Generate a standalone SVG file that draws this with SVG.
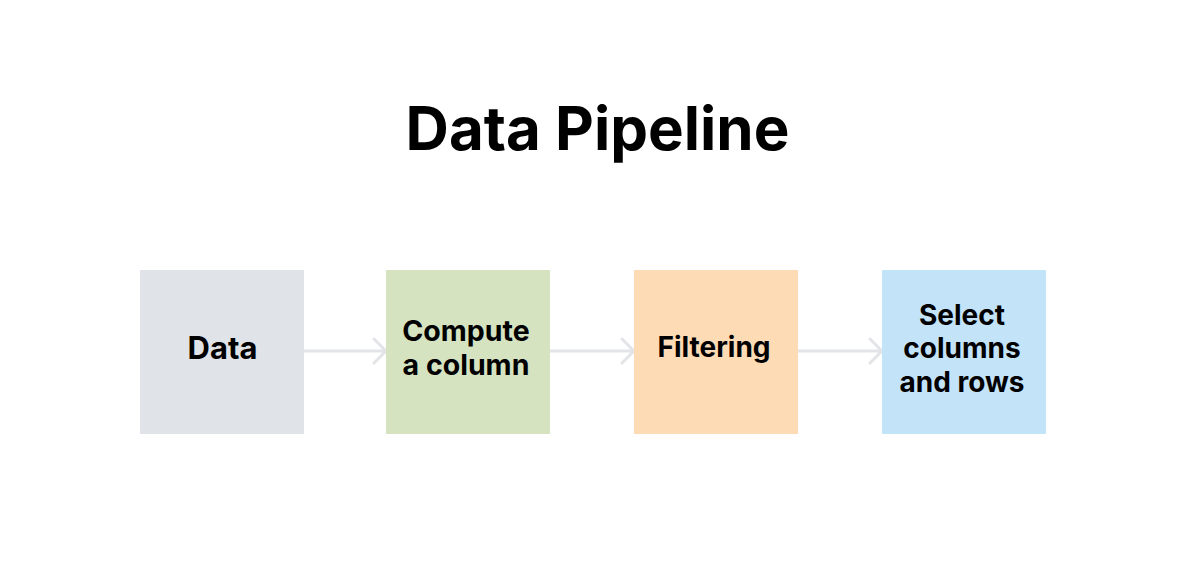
<svg xmlns="http://www.w3.org/2000/svg" width="1182" height="582" viewBox="0 0 1182 582">
<style>
.t{font-family:Inter,"Liberation Sans",sans-serif;font-weight:700;fill:#000;text-anchor:middle}
.l30{font-size:31px}
.l285{font-size:28.5px}
.l28{font-size:28px}
.c{fill:none;stroke:#e2e4e8;stroke-width:3;stroke-linecap:round;stroke-linejoin:round}
</style>
<rect width="1182" height="582" fill="#fff"/>
<text class="t" x="597.5" y="150" font-size="60">Data Pipeline</text>
<g id="connectors">
<path class="c" d="M304 351H385M374 339L386 351L374 363"/>
<path class="c" d="M550 351H633M622 339L634 351L622 363"/>
<path class="c" d="M798 351H881M870 339L882 351L870 363"/>
</g>
<g id="data"><rect x="140" y="270" width="164" height="164" fill="#e0e3e8"/><text class="t l30" x="222.5" y="359">Data</text></g>
<g id="compute"><rect x="386" y="270" width="164" height="164" fill="#d5e3c0"/><text class="t l285" x="466" y="341">Compute</text><text class="t l285" x="466" y="375">a column</text></g>
<g id="filtering"><rect x="634" y="270" width="164" height="164" fill="#fcdbb5"/><text class="t l28" x="714" y="357">Filtering</text></g>
<g id="select"><rect x="882" y="270" width="164" height="164" fill="#c3e3f9"/><text class="t l28" x="962" y="325">Select</text><text class="t l28" x="962" y="358">columns</text><text class="t l28" x="962" y="392">and rows</text></g>
</svg>
